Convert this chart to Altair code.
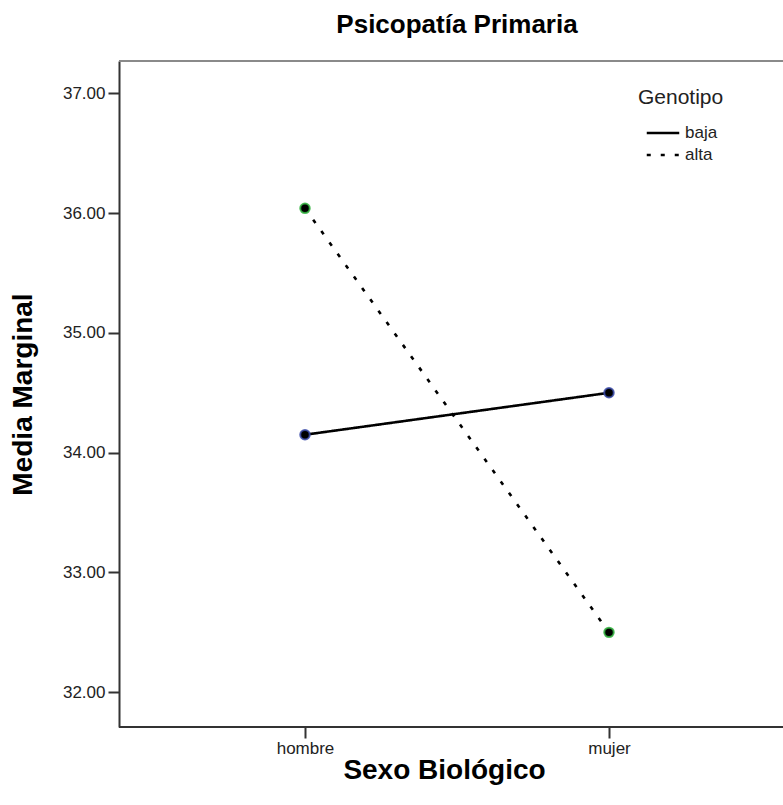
import altair as alt
import pandas as pd

sexo = ["hombre", "mujer"]
genotipos = ["baja", "alta"]
baja = [34.15, 34.50]
alta = [36.04, 32.50]
y_ticks = [32, 33, 34, 35, 36, 37]
halo = {"baja": "#3a4aa8", "alta": "#33b33f"}

rows = []
for g, vals in zip(genotipos, [baja, alta]):
    for s, v in zip(sexo, vals):
        rows.append({"Sexo": s, "Genotipo": g, "Media": v})
df = pd.DataFrame(rows)

W, H = 664, 666
FONT = "Liberation Sans"

x_enc = alt.X("Sexo:N",
              scale=alt.Scale(type="point", domain=sexo, range=[186, 490], padding=0),
              axis=alt.Axis(title="Sexo Biológico", labelAngle=0, labelFontSize=17,
                            titleFontSize=28, titleFontWeight="bold",
                            titleX=325, titleY=51, titleBaseline="alphabetic",
                            titleAlign="center",
                            tickSize=11, labelPadding=2, domain=False))
y_enc = alt.Y("Media:Q", scale=alt.Scale(domain=[31.71, 37.27], nice=False, zero=False),
              axis=alt.Axis(title="Media Marginal", values=y_ticks, format=".2f",
                            labelFontSize=17, titleFontSize=28, titleFontWeight="bold",
                            titleX=-96, titleY=333, titleBaseline="middle",
                            titleAlign="center", titleAngle=-90,
                            tickSize=11, labelPadding=3, grid=False))

lines = alt.Chart(df).mark_line(color="black", strokeWidth=2.6).encode(
    x=x_enc, y=y_enc,
    strokeDash=alt.StrokeDash("Genotipo:N",
                              scale=alt.Scale(domain=genotipos, range=[[1, 0], [4, 10]]),
                              legend=alt.Legend(title="Genotipo", orient="none",
                                                legendX=519, legendY=26, padding=0,
                                                symbolType="M-1.3,0H1.3", symbolSize=625,
                                                symbolStrokeWidth=2.6, symbolStrokeColor="black",
                                                symbolFillColor="transparent",
                                                labelFontSize=17, titleFontSize=21,
                                                titleFontWeight="normal", labelOffset=8,
                                                symbolOffset=11, rowPadding=0, titlePadding=11)),
)

point_layers = []
for g in genotipos:
    point_layers.append(
        alt.Chart(df).transform_filter(alt.datum.Genotipo == g).mark_point(
            filled=True, size=90, opacity=1, fill="black", stroke=halo[g],
            strokeWidth=2, strokeOpacity=0.85).encode(x=x_enc, y=y_enc)
    )

frame = pd.DataFrame({"k": [0]})
top_border = alt.Chart(frame).mark_rule(color="#8a8a8a", strokeWidth=2).encode(
    x=alt.value(0), x2=alt.value(W), y=alt.value(0)
)
bottom_border = alt.Chart(frame).mark_rule(color="#333333", strokeWidth=2).encode(
    x=alt.value(0), x2=alt.value(W), y=alt.value(H)
)

chart = alt.layer(top_border, bottom_border, lines, *point_layers).properties(
    width=W, height=H,
    title=alt.TitleParams("Psicopatía Primaria", fontSize=26, fontWeight="bold",
                          font=FONT, offset=22, dx=6, color="black"),
    autosize=alt.AutoSizeParams(type="none"),
    padding={"left": 119, "top": 61, "right": 0, "bottom": 78},
).configure_view(stroke=None).configure_axis(
    labelFont=FONT, titleFont=FONT, labelColor="#222", titleColor="black",
    domainColor="#333", domainWidth=2, tickColor="#333", tickWidth=2,
).configure_legend(labelFont=FONT, titleFont=FONT, labelColor="#222", titleColor="#222")

chart.save("out.html", embed_options={"renderer": "svg", "actions": False})
